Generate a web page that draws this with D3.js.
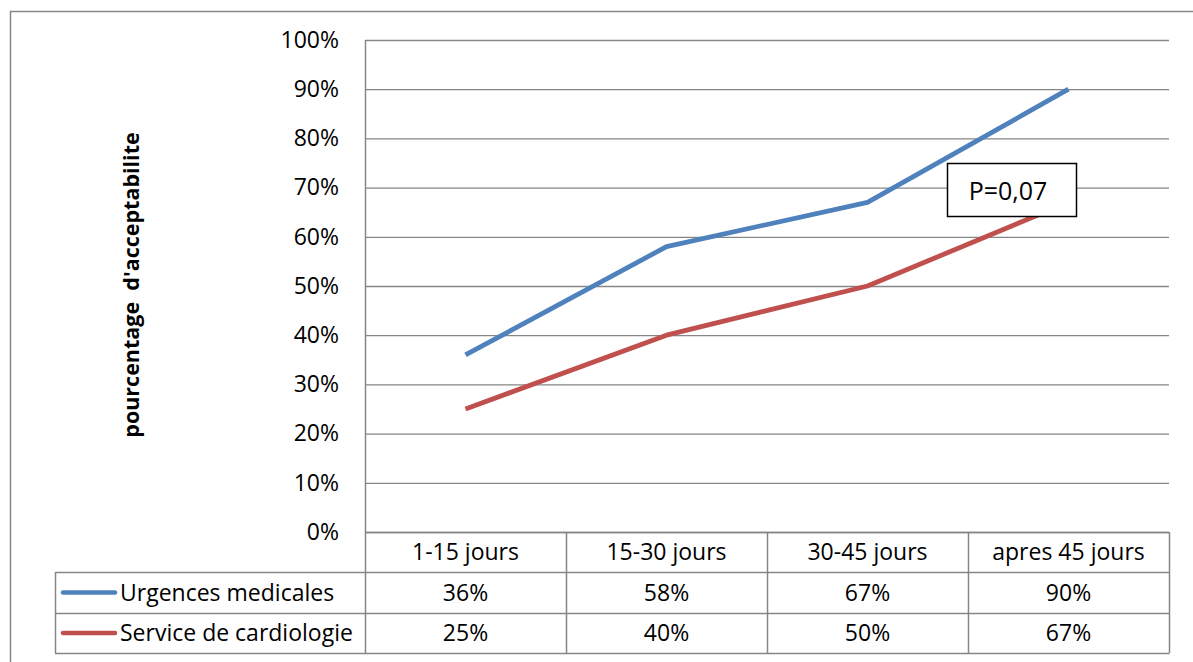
<!DOCTYPE html>
<html>
<head>
<meta charset="utf-8">
<script src="https://cdn.jsdelivr.net/npm/d3@7"></script>
<style>
  html, body { margin: 0; padding: 0; background: #fff; }
  svg { display: block; font-family: "Open Sans", "Liberation Sans", sans-serif; }
</style>
</head>
<body>
<svg id="chart" width="1193" height="662"></svg>
<script>
// Periods after the intervention
const categories = ["1-15 jours", "15-30 jours", "30-45 jours", "apres 45 jours"];
// Acceptability rate per service (%)
const urgences = [36, 58, 67, 90];
const cardiologie = [25, 40, 50, 67];
const seriesNames = ["Urgences medicales", "Service de cardiologie"];
const seriesColors = ["#4F81BD", "#C0504D"];
const yTicks = [0, 10, 20, 30, 40, 50, 60, 70, 80, 90, 100];
const annotation = "P=0,07";

const series = [urgences, cardiologie];
const svg = d3.select("#chart");
const grid = "#868686";
const fs = 23;

// Outer frame
svg.append("rect").attr("x", 10.5).attr("y", 11.5).attr("width", 1200).attr("height", 700)
  .attr("fill", "none").attr("stroke", grid).attr("stroke-width", 1.5);

const plot = { left: 365, right: 1169, top: 40, bottom: 532 };
const x = d3.scaleBand().domain(categories).range([plot.left, plot.right]).paddingInner(0).paddingOuter(0);
const y = d3.scaleLinear().domain([0, 100]).range([plot.bottom, plot.top]);

// Horizontal gridlines
svg.append("g").selectAll("line").data(yTicks).join("line")
  .attr("x1", plot.left).attr("x2", plot.right)
  .attr("y1", d => y(d) + 0.5).attr("y2", d => y(d) + 0.5)
  .attr("stroke", grid).attr("stroke-width", 1.3);

// Y axis tick labels
const yAxis = d3.axisLeft(y).tickValues(yTicks).tickFormat(d => d + "%").tickSize(0).tickPadding(26);
const yg = svg.append("g").attr("transform", `translate(${plot.left},0)`).call(yAxis);
yg.select(".domain").remove();
yg.selectAll("text").attr("font-size", fs).attr("fill", "#000")
  .style("font-family", "'Open Sans', sans-serif");

// Y axis title
svg.append("text")
  .attr("transform", "translate(139,285) rotate(-90)")
  .attr("text-anchor", "middle")
  .attr("font-size", 21.5).attr("font-weight", "bold")
  .attr("xml:space", "preserve")
  .text("pourcentage  d'acceptabilite");

// Data table geometry
const rowH = [532, 572, 613, 653];
const legendLeft = 55;

// Table grid lines
const tbl = svg.append("g").attr("stroke", grid).attr("stroke-width", 1.5).attr("fill", "none");
// vertical line of the axis, full height
tbl.append("line").attr("x1", plot.left + 0.5).attr("x2", plot.left + 0.5).attr("y1", plot.top).attr("y2", rowH[3]);
// column separators and right edge
categories.forEach(c => {
  const xr = x(c) + x.bandwidth();
  tbl.append("line").attr("x1", xr + 0.5).attr("x2", xr + 0.5).attr("y1", rowH[0]).attr("y2", rowH[3]);
});
// row lines
tbl.append("line").attr("x1", plot.left).attr("x2", plot.right).attr("y1", rowH[0] + 0.5).attr("y2", rowH[0] + 0.5);
[1, 2, 3].forEach(i => {
  tbl.append("line").attr("x1", legendLeft).attr("x2", plot.right + 0.5)
    .attr("y1", rowH[i] + 0.5).attr("y2", rowH[i] + 0.5);
});
tbl.append("line").attr("x1", legendLeft + 0.5).attr("x2", legendLeft + 0.5).attr("y1", rowH[1]).attr("y2", rowH[3]);

// Category header row
svg.append("g").selectAll("text").data(categories).join("text")
  .attr("x", d => x(d) + x.bandwidth() / 2)
  .attr("y", (rowH[0] + rowH[1]) / 2 + 8)
  .attr("text-anchor", "middle").attr("font-size", fs)
  .text(d => d);

// Series rows: legend key, name and values
series.forEach((vals, i) => {
  const cy = (rowH[i + 1] + rowH[i + 2]) / 2;
  svg.append("line").attr("x1", 63).attr("x2", 115).attr("y1", cy).attr("y2", cy)
    .attr("stroke", seriesColors[i]).attr("stroke-width", 4.5).attr("stroke-linecap", "round");
  svg.append("text").attr("x", 120).attr("y", cy + 8).attr("font-size", fs).text(seriesNames[i]);
  svg.append("g").selectAll("text").data(vals).join("text")
    .attr("x", (d, j) => x(categories[j]) + x.bandwidth() / 2)
    .attr("y", cy + 8).attr("text-anchor", "middle").attr("font-size", fs)
    .text(d => d + "%");
});

// Lines
const line = d3.line()
  .x((d, j) => x(categories[j]) + x.bandwidth() / 2)
  .y(d => y(d));
series.forEach((vals, i) => {
  svg.append("path").datum(vals).attr("d", line)
    .attr("fill", "none").attr("stroke", seriesColors[i])
    .attr("stroke-width", 4.8).attr("stroke-linejoin", "round").attr("stroke-linecap", "butt");
});

// Annotation box
const ann = svg.append("g");
ann.append("rect").attr("x", 947.5).attr("y", 163.5).attr("width", 129).attr("height", 53)
  .attr("fill", "#fff").attr("stroke", "#000").attr("stroke-width", 1.5);
ann.append("text").attr("x", 1008).attr("y", 200).attr("text-anchor", "middle")
  .attr("font-size", 25).text(annotation);
</script>
</body>
</html>
